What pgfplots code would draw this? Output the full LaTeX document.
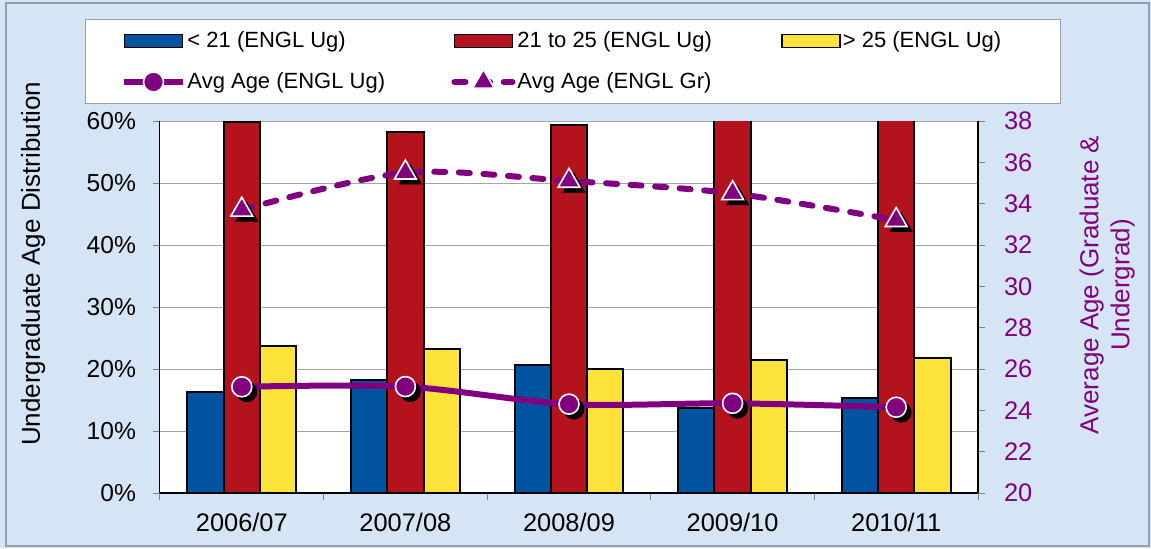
\documentclass[border=0pt]{standalone}
\usepackage{fontspec}
\setmainfont{Liberation Sans}
\usepackage{pgfplots}
\pgfplotsset{compat=1.18}
\definecolor{bgblue}{RGB}{214,229,245}
\definecolor{barblue}{RGB}{0,84,159}
\definecolor{barred}{RGB}{180,18,28}
\definecolor{baryellow}{RGB}{253,226,58}
\definecolor{avgpurple}{RGB}{128,0,128}
\definecolor{framegray}{RGB}{150,160,170}
\pgfplotsset{
  barlegend/.style={legend image code/.code={\draw[##1] (0pt,-3.25pt) rectangle (29pt,3.25pt);}},
  linelegend/.style={legend image code/.code={\draw[mark repeat=2,mark phase=2,##1] plot coordinates {(0pt,0pt) (14.5pt,0pt) (29pt,0pt)};}},
}
\begin{document}
\begin{tikzpicture}
\fill[bgblue] (-80pt,-27.5pt) rectangle (495.5pt,246.5pt);
\draw[framegray, line width=0.6pt] (-77pt,-26.5pt) rectangle (494.5pt,245pt);
\begin{axis}[
  at={(0pt,0pt)}, anchor=south west, scale only axis, width=409pt, height=186pt,
  xmin=-0.5, xmax=4.5, ymin=0, ymax=60,
  axis y line=left, axis x line=bottom,
  x axis line style={-, black, line width=0.6pt},
  y axis line style={-, black, line width=0.5pt},
  axis background/.style={fill=white},
  ybar=0pt, bar width=18.15pt,
  xtick={-0.5,0.5,...,4.5}, x tick label as interval,
  xticklabels={2006/07,2007/08,2008/09,2009/10,2010/11},
  ytick={0,10,...,60}, yticklabel={\pgfmathprintnumber{\tick}\%},
  tick align=outside, major tick length=3.5pt,
  tick style={gray, line width=0.5pt},
  ymajorgrids, major grid style={gray!70, line width=0.4pt},
  xticklabel style={font=\fontsize{12.7}{15}\selectfont, yshift=-3pt},
  yticklabel style={font=\fontsize{12.3}{15}\selectfont, xshift=-5pt},
  /pgf/number format/assume math mode=true,
  ylabel={Undergraduate Age Distribution},
  every axis y label/.style={at={(axis description cs:-0.155,0.616)}, rotate=90, anchor=center, font=\fontsize{13}{15}\selectfont},
]
\addplot[fill=barblue, draw=black, line width=1pt] coordinates {(0,16.3) (1,18.3) (2,20.7) (3,13.7) (4,15.3)};
\addplot[fill=barred, draw=black, line width=1pt] coordinates {(0,59.9) (1,58.3) (2,59.3) (3,64.8) (4,63.0)};
\addplot[fill=baryellow, draw=black, line width=1pt] coordinates {(0,23.7) (1,23.2) (2,20.0) (3,21.5) (4,21.7)};
\end{axis}
\begin{axis}[
  at={(0pt,0pt)}, anchor=south west, scale only axis, width=409pt, height=186pt,
  xmin=-0.5, xmax=4.5, ymin=20, ymax=38,
  axis y line=right, axis x line=none, xtick=\empty,
  y axis line style={-, black, line width=0.6pt},
  ytick={20,22,...,38}, tick align=outside, major tick length=3.5pt,
  tick style={gray, line width=0.5pt},
  yticklabel style={font=\fontsize{12.7}{15}\selectfont, text=avgpurple, xshift=6pt},
  /pgf/number format/assume math mode=true,
  ylabel={Average Age (Graduate \&\\Undergrad)},
  every axis y label/.style={at={(axis description cs:1.158,0.559)}, rotate=90, anchor=center, align=center, font=\fontsize{13}{15.5}\selectfont, text=avgpurple},
  legend columns=3,
  legend cell align=left,
  legend style={at={(axis description cs:-0.0917,1.274)}, anchor=north west, draw=framegray, line width=0.5pt, fill=white,
    inner xsep=18pt, inner ysep=4pt, row sep=7pt, column sep=0pt,
    nodes={inner xsep=1pt, font=\fontsize{11}{13}\selectfont}},
]
\addlegendimage{barlegend, fill=barblue, draw=black, line width=0.7pt}
\addlegendentry{\makebox[131pt][l]{< 21 (ENGL Ug)}}
\addlegendimage{barlegend, fill=barred, draw=black, line width=0.7pt}
\addlegendentry{\makebox[131pt][l]{21 to 25 (ENGL Ug)}}
\addlegendimage{barlegend, fill=baryellow, draw=black, line width=0.7pt}
\addlegendentry{\makebox[90pt][l]{> 25 (ENGL Ug)}}
\addplot[forget plot, only marks, mark=*, mark size=5pt, black, mark options={xshift=2.5pt, yshift=-2.5pt}] coordinates {(0,25.14) (1,25.15) (2,24.3) (3,24.34) (4,24.15)};
\addplot[forget plot, only marks, mark=triangle*, mark size=6.3pt, black, mark options={xshift=2.5pt, yshift=-2.5pt}] coordinates {(0,33.7) (1,35.5) (2,35.1) (3,34.5) (4,33.2)};
\addplot[avgpurple, line width=3pt, smooth, mark=*, mark size=5pt, mark options={solid, fill=avgpurple, draw=white, line width=0.8pt}, linelegend] coordinates {(0,25.14) (1,25.15) (2,24.3) (3,24.34) (4,24.15)};
\addlegendentry{Avg Age (ENGL Ug)}
\addplot[avgpurple, line width=3pt, smooth, dash pattern=on 5.5pt off 6.8pt, line cap=round, mark=triangle*, mark size=6.3pt, mark options={solid, fill=avgpurple, draw=white, line width=0.8pt}, linelegend] coordinates {(0,33.7) (1,35.5) (2,35.1) (3,34.5) (4,33.2)};
\addlegendentry{Avg Age (ENGL Gr)}
\end{axis}
\end{tikzpicture}
\end{document}
